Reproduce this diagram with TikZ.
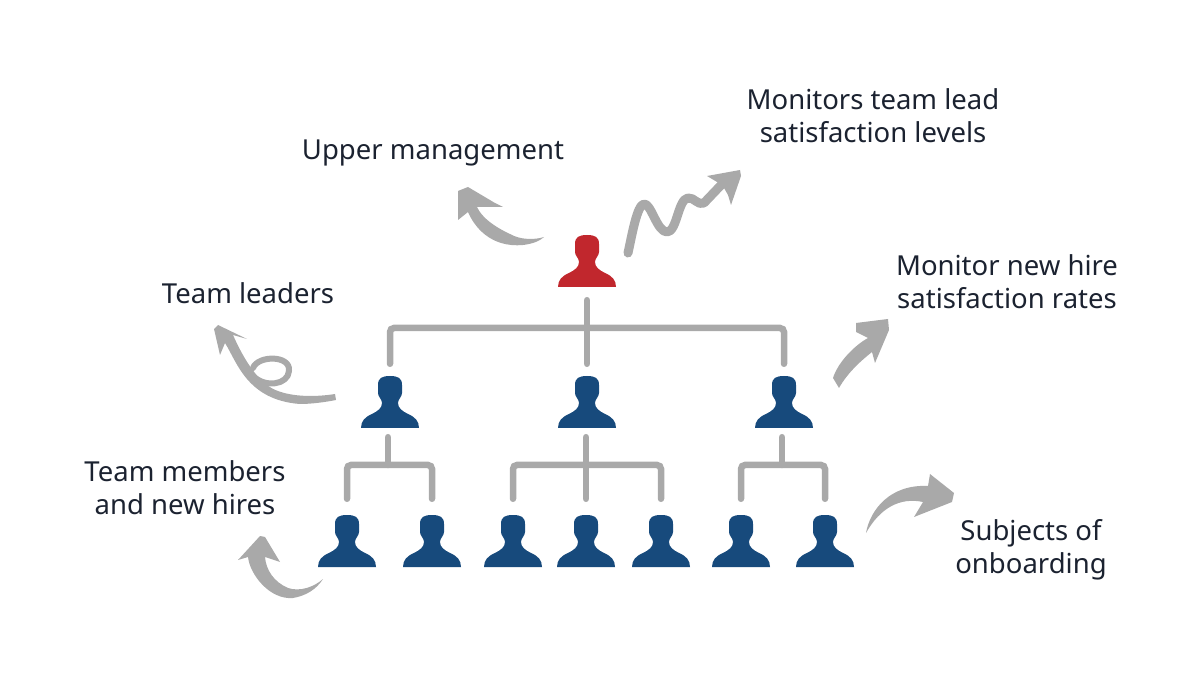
\documentclass[tikz,border=0pt]{standalone}
\usepackage{fontspec}
\setmainfont{Noto Sans}
\definecolor{chiefred}{HTML}{C1272D}
\definecolor{staffblue}{HTML}{174A7C}
\definecolor{linegray}{HTML}{A9A9A9}
\definecolor{labelink}{HTML}{1B2230}
\tikzset{
	person/.style={minimum width=60pt, minimum height=54pt, inner sep=0pt,
		path picture={
			\fill[#1, shift={(path picture bounding box.center)}]
			(0,-26) .. controls (8,-26) and (12,-24) .. (12,-17) -- (12,-9)
			.. controls (12,-5) and (8,-3) .. (8,1)
			.. controls (8,6) and (12,9) .. (18,12)
			.. controls (25,15) and (29,19) .. (29,26)
			-- (-29,26)
			.. controls (-29,19) and (-25,15) .. (-18,12)
			.. controls (-12,9) and (-8,6) .. (-8,1)
			.. controls (-8,-3) and (-12,-5) .. (-12,-9) -- (-12,-17)
			.. controls (-12,-24) and (-8,-26) .. (0,-26) -- cycle;
		}},
	branch/.style={draw=linegray, line width=6.5pt, line cap=round, rounded corners=4pt},
	stroke/.style={draw=linegray, line cap=round, line join=round},
	brush/.style={fill=linegray, draw=none},
	label/.style={text=labelink, align=center, font=\fontsize{27.5}{33}\selectfont, inner sep=0pt}
}

\begin{document}
\begin{tikzpicture}[x=1pt, y=-1pt]
	\useasboundingbox (0,0) rectangle (1200,700);
	%people
	\node[person=chiefred] (chief) at (587,261) {};
	\foreach \name/\x in {lead1/390, lead2/587, lead3/784}
	\node[person=staffblue] (\name) at (\x,402) {};
	\foreach \name/\x in {
		member1/347,
		member2/432,
		member3/513,
		member4/586,
		member5/661,
		member6/741,
		member7/825
	}
	\node[person=staffblue] (\name) at (\x,541) {};
	%tree
	\coordinate (bus0) at (587,328);
	\coordinate (bus1) at (388,465);
	\coordinate (bus2) at (586,465);
	\coordinate (bus3) at (782,465);
	\draw[branch, shorten <=11pt, shorten >=11pt] (lead1.north) |- (bus0) -| (lead3.north);
	\draw[branch, shorten <=12pt, shorten >=11pt] (chief.south) -- (lead2.north);
	\draw[branch, shorten <=15pt, shorten >=15pt] (member1.north) |- (bus1) -| (member2.north);
	\draw[branch, shorten <=15pt, shorten >=15pt] (member3.north) |- (bus2) -| (member5.north);
	\draw[branch, shorten <=15pt, shorten >=15pt] (member6.north) |- (bus3) -| (member7.north);
	\draw[branch, shorten <=15pt, shorten >=8pt] (member4.north) -- (bus2 |- lead2.south);
	\draw[branch, shorten >=8pt] (bus1) -- (bus1 |- lead1.south);
	\draw[branch, shorten >=8pt] (bus3) -- (bus3 |- lead3.south);
	%labels
	\node[label] (upper) at (433,153) {Upper management};
	\node[label] (monitors) at (873,116) {Monitors team lead\\satisfaction levels};
	\node[label] (newhire) at (1007,282) {Monitor new hire\\satisfaction rates};
	\node[label] (leaders) at (248,293) {Team leaders};
	\node[label] (members) at (185,488) {Team members\\and new hires};
	\node[label] (subjects) at (1031,550) {Subjects of\\onboarding};
	%arrows
	\fill[brush] (468,187) -- (458,191) -- (458,220) -- (468,212)
	.. controls (474,226) and (490,248) .. (523,245)
	.. controls (532,244) and (540,241) .. (544,237)
	.. controls (535,240) and (520,240) .. (510,234)
	.. controls (495,227) and (482,218) .. (477,207)
	-- (503,207) -- (495,203) -- cycle;
	\draw[stroke, line width=9pt] (628,253)
	.. controls (632,235) and (637,205) .. (644,204)
	.. controls (651,203) and (657,232) .. (667,232)
	.. controls (677,232) and (678,199) .. (688,198)
	.. controls (694,197) and (698,206) .. (704,203)
	-- (724,182);
	\fill[brush] (740,170) -- (707,176) -- (717,182) -- (724,188) -- (728,195) -- (731,205) -- (741,176) -- cycle;
	\fill[brush] (218,325) -- (214,329) -- (220,355) -- (225,343)
	.. controls (237,362) and (247,400) .. (300,404)
	.. controls (312,404) and (326,402) .. (336,400)
	-- (335,394)
	.. controls (316,397) and (294,397) .. (278,391)
	.. controls (260,385) and (245,362) .. (233,335)
	-- (247,339) -- cycle;
	\draw[stroke, line width=6pt] (253,368)
	.. controls (258,355) and (291,355) .. (289,371)
	.. controls (288,385) and (265,388) .. (253,376);
	\fill[brush] (260,536) -- (238,560) -- (248,557)
	.. controls (250,575) and (270,600) .. (293,598)
	.. controls (305,596) and (316,590) .. (323,579)
	.. controls (314,587) and (300,592) .. (288,588)
	.. controls (274,582) and (266,570) .. (265,557)
	-- (280,562) -- (265,537) -- cycle;
	\fill[brush] (839,388) -- (833,378)
	.. controls (838,362) and (855,345) .. (868,338)
	-- (856,332) -- (856,323) -- (888,319) -- (889,330) -- (875,363) -- (872,352)
	.. controls (862,360) and (848,372) .. (839,388) -- cycle;
	\fill[brush] (866,533)
	.. controls (870,510) and (890,484) .. (928,486)
	-- (930,474) -- (954,493) -- (952,502) -- (914,517) -- (923,502)
	.. controls (900,497) and (880,508) .. (866,533) -- cycle;
\end{tikzpicture}
\end{document}
